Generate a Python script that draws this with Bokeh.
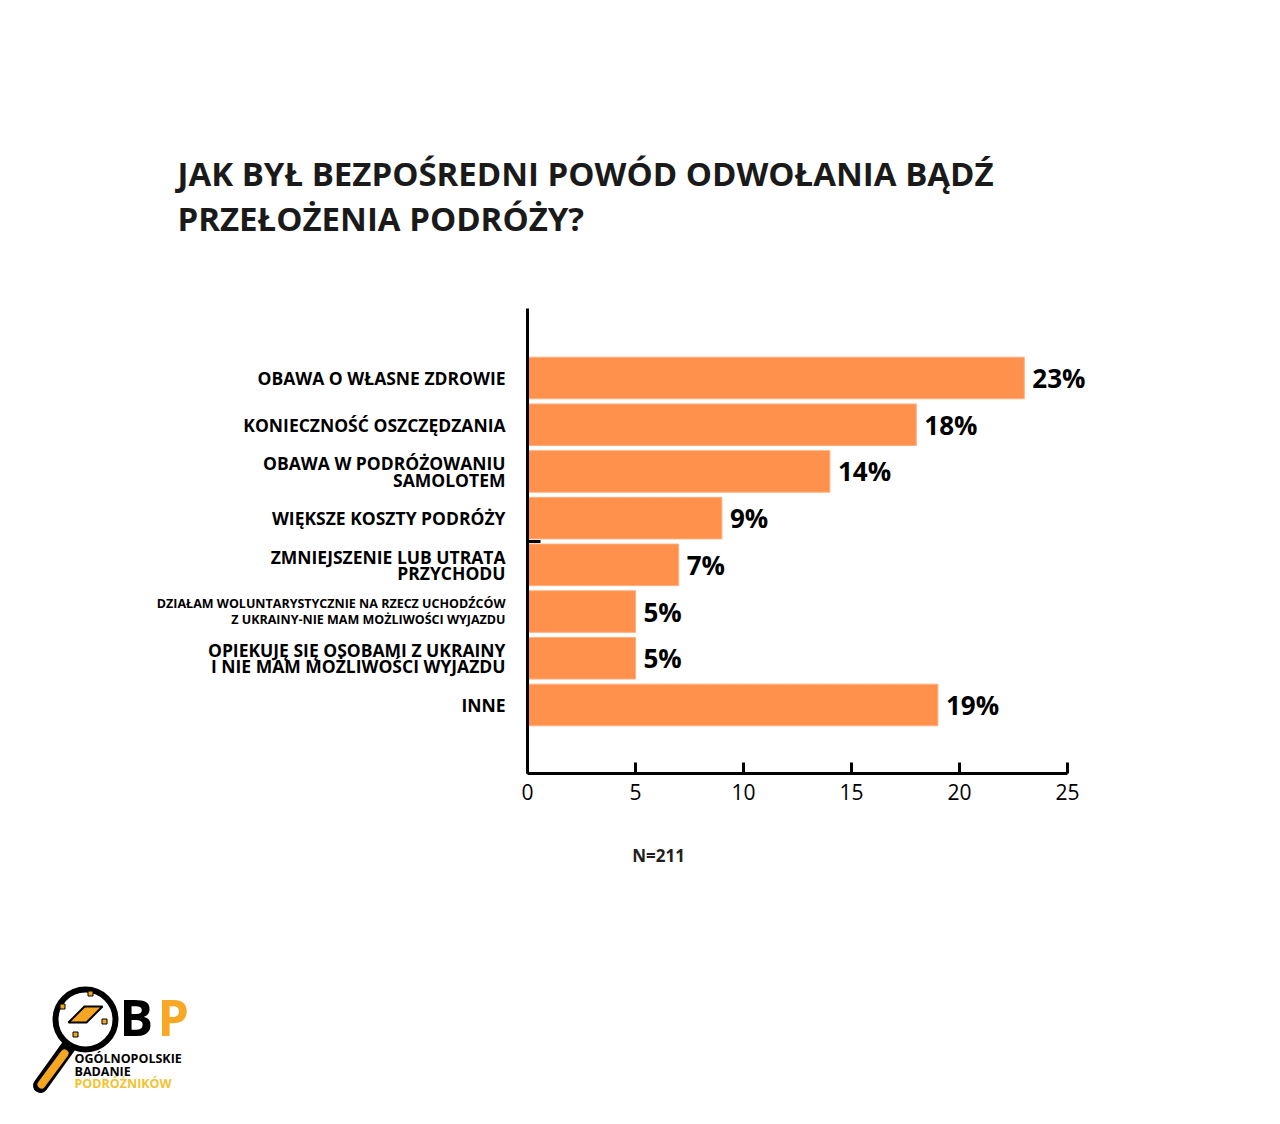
from bokeh.plotting import figure
from bokeh.models import Range1d, FixedTicker, ColumnDataSource
from bokeh.core.properties import value
from bokeh.embed import file_html
from bokeh.resources import INLINE

# ---------------- data ----------------
categories = [
    "OBAWA O WŁASNE ZDROWIE",
    "KONIECZNOŚĆ OSZCZĘDZANIA",
    "OBAWA W PODRÓŻOWANIU\nSAMOLOTEM",
    "WIĘKSZE KOSZTY PODRÓŻY",
    "ZMNIEJSZENIE LUB UTRATA\nPRZYCHODU",
    "DZIAŁAM WOLUNTARYSTYCZNIE NA RZECZ UCHODŹCÓW\nZ UKRAINY-NIE MAM MOŻLIWOŚCI WYJAZDU",
    "OPIEKUJĘ SIĘ OSOBAMI Z UKRAINY\nI NIE MAM MOŻLIWOŚCI WYJAZDU",
    "INNE",
]
values = [23, 18, 14, 9, 7, 5, 5, 19]
value_labels = ["23%", "18%", "14%", "9%", "7%", "5%", "5%", "19%"]
x_ticks = [0, 5, 10, 15, 20, 25]
title_lines = ["JAK BYŁ BEZPOŚREDNI POWÓD ODWOŁANIA BĄDŹ", "PRZEŁOŻENIA PODRÓŻY?"]
note = "N=211"
logo_letters = ["B", "P"]
logo_lines = ["OGÓLNOPOLSKIE", "BADANIE", "PODRÓŻNIKÓW"]

# ---------------- layout helpers (page pixel -> data) ----------------
W, H = 1264, 1108
FX0, FX1 = 527, 1067      # x = 0 and x = 25 in page pixels
FY0, FY1 = 308, 773       # top / bottom of the value axis area
Y0C, PITCH = 377.5, 46.71 # first bar centre and bar pitch in page pixels
XMAX = 25.0


def dx(px):
    return (px - FX0) / (FX1 - FX0) * XMAX


def dy(py):
    return (py - Y0C) / PITCH


positions = list(range(len(categories)))

FONT = "Open Sans"
BAR = "#FF914D"

p = figure(width=W, height=H, output_backend="svg", toolbar_location=None,
           x_range=Range1d(dx(0), dx(W)), y_range=Range1d(dy(H), dy(0)),
           min_border=0)
p.title.visible = False
p.outline_line_color = None
p.xgrid.visible = False
p.ygrid.visible = False
p.background_fill_color = "white"
p.border_fill_color = "white"

# bars
src = ColumnDataSource(dict(y=positions, v=values, lab=value_labels))
p.hbar(y="y", left=0, right="v", height=0.89, source=src,
       fill_color=BAR, line_color="#FFB07F", line_width=1)

# x axis (fixed at bottom of the chart area)
xa = p.xaxis[0]
xa.fixed_location = dy(FY1)
xa.bounds = (0, XMAX)
xa.ticker = FixedTicker(ticks=x_ticks)
xa.axis_line_width = 3
xa.axis_line_color = "black"
xa.major_tick_line_width = 3
xa.major_tick_line_color = "black"
xa.major_tick_in = 11
xa.major_tick_out = 0
xa.minor_tick_line_color = None
xa.major_label_text_font = FONT
xa.major_label_text_font_size = "21px"
xa.major_label_text_color = "black"
xa.major_label_standoff = 10

# y axis: bare line with a single stray inner tick
ya = p.yaxis[0]
ya.fixed_location = 0
ya.bounds = (dy(FY0), dy(FY1))
ya.ticker = FixedTicker(ticks=[3.5])
ya.axis_line_width = 3
ya.axis_line_color = "black"
ya.major_tick_line_width = 3
ya.major_tick_line_color = "black"
ya.major_tick_in = 13
ya.major_tick_out = 0
ya.minor_tick_line_color = None
ya.major_label_overrides = {3.5: ""}
ya.major_label_text_font_size = "1px"

# value labels
p.text(x="v", y="y", text="lab", source=src, x_offset=8,
       text_baseline="middle", text_align="left",
       text_font=value(FONT), text_font_style="bold",
       text_font_size="26px", text_color="black")

# category labels (right aligned, left of the axis)
small_idx = [5]
big = [i for i in positions if i not in small_idx]
p.text(x=[dx(505)] * len(big), y=[positions[i] for i in big],
       text=[categories[i] for i in big],
       text_align="right", text_baseline="middle",
       text_font=value(FONT), text_font_style="bold",
       text_font_size="17.5px", text_line_height=0.68, text_color="black")
p.text(x=[dx(505)] * len(small_idx), y=[positions[i] for i in small_idx],
       text=[categories[i] for i in small_idx],
       text_align="right", text_baseline="middle",
       text_font=value(FONT), text_font_style="bold",
       text_font_size="12.5px", text_line_height=0.93, text_color="black")

# title
p.text(x=[dx(177)] * len(title_lines), y=[dy(172.5 + 45 * k) for k in range(len(title_lines))],
       text=title_lines, text_align="left", text_baseline="middle",
       text_font=value(FONT), text_font_style="bold",
       text_font_size="33px", text_color="#1a1a1a")

# sample size note
p.text(x=[dx(658)], y=[dy(854.5)], text=[note], text_align="center",
       text_baseline="middle", text_font=value(FONT),
       text_font_style="bold", text_font_size="17px", text_color="#231f20")

# ---------------- logo ----------------
# handle
p.segment(x0=[dx(68)], y0=[dy(1046)], x1=[dx(40)], y1=[dy(1085)],
          line_width=15, line_color="black", line_cap="round")
p.segment(x0=[dx(64)], y0=[dy(1053)], x1=[dx(41)], y1=[dy(1084)],
          line_width=8, line_color="#F5A623", line_cap="round")
# lens ring
p.scatter(x=[dx(85)], y=[dy(1019)], marker="circle", size=60,
          fill_color="white", line_color="black", line_width=6)
# small marks on the inner ring
p.scatter(x=[dx(62), dx(90), dx(104), dx(75)],
          y=[dy(1006), dy(993), dy(1021), dy(1034)],
          marker="square", size=5, fill_color="#F5A623",
          line_color="black", line_width=1)
# diamond
p.patch(x=[dx(68), dx(86), dx(102), dx(84)],
        y=[dy(1022), dy(1022), dy(1006), dy(1006)],
        fill_color="#F5A623", line_color="black", line_width=2)
# letters B P
p.text(x=[dx(119), dx(157)], y=[dy(1016.5), dy(1016.5)], text=logo_letters,
       text_align="left", text_baseline="middle",
       text_font=value(FONT), text_font_style="bold",
       text_font_size="50px", text_color=["black", "#F9A825"])
p.text(x=[dx(74)] * len(logo_lines), y=[dy(1057.5), dy(1070.5), dy(1083)],
       text=logo_lines, text_align="left", text_baseline="middle",
       text_font=value(FONT), text_font_style="bold",
       text_font_size="12.5px", text_color=["black", "black", "#F2C230"])

open("out.html", "w").write(file_html(p, INLINE))
